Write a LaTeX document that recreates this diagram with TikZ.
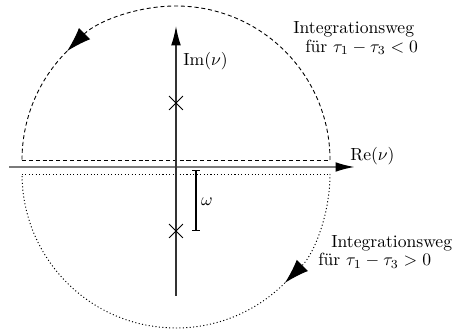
\documentclass[tikz,border=0pt]{standalone}
\usepackage{tikz}
\usetikzlibrary{arrows.meta,shapes.misc}
\definecolor{axisgray}{HTML}{7A7A7A}
\definecolor{axisdark}{HTML}{333333}

\begin{document}
\begin{tikzpicture}[
  imaxis/.style={line width=0.8pt, axisdark, -{Latex[length=11pt,width=5.5pt,black]}},
  reaxis/.style={line width=1.1pt, axisgray, -{Latex[length=11pt,width=5.5pt,black]}},
  wegup/.style={line width=0.5pt, dash pattern=on 2.3pt off 1.6pt},
  wegdown/.style={line width=0.55pt, dash pattern=on 0.6pt off 1.35pt},
  wegtip/.style={-{Latex[length=14pt,width=9pt]}},
  pole/.style={draw, cross out, minimum size=0.26cm, inner sep=0pt, line width=0.5pt},
  lbl/.style={inner sep=0pt},
]
\useasboundingbox (-3.52,-3.24) rectangle (5.56,3.34);

% ---------- integration paths ----------
% upper half, tau1 - tau3 < 0
\begin{scope}[shift={(0,0.14)}]
  \draw[wegup] (-3.08,0) -- (3.08,0);
  \draw[wegup, wegtip] (3.08,0) arc (0:135:3.08);
  \draw[wegup] (135:3.08) arc (135:180:3.08);
\end{scope}
% lower half, tau1 - tau3 > 0
\begin{scope}[shift={(0,-0.14)}]
  \draw[wegdown] (-3.08,0) -- (3.08,0);
  \draw[wegdown, wegtip] (3.08,0) arc (0:-45:3.08);
  \draw[wegdown] (-45:3.08) arc (-45:-180:3.08);
\end{scope}

% ---------- axes ----------
\coordinate (re0) at (-3.33,0);
\coordinate (re1) at (3.58,0);
\coordinate (im0) at (0,-2.58);
\coordinate (im1) at (0,2.82);
\draw[reaxis] (re0) -- (re1);
\draw[imaxis] (im0) -- (im1);
\node[lbl, anchor=west] (re) at (3.48,0.22) {$\mathrm{Re}(\nu)$};
\node[lbl, anchor=west] (im) at (0.14,2.12) {$\mathrm{Im}(\nu)$};

% ---------- poles ----------
\node[pole] (p1) at (0,1.28) {};
\node[pole] (p2) at (0,-1.28) {};

% ---------- distance omega ----------
\coordinate (w0) at (0.4,-0.06);
\draw[line width=0.7pt, {Bar[width=4.5pt]}-{Bar[width=4.5pt]}] (w0) -- (w0 |- p2);
\node[lbl] (om) at (0.62,-0.7) {$\omega$};

% ---------- labels ----------
\node[lbl, anchor=north west, align=left] (tup) at (2.34,2.91)
  {Integrationsweg\\[-1.5pt]\hspace*{6.8pt}für $\tau_1-\tau_3<0$};
\node[lbl, anchor=north west, align=left] (tdown) at (2.84,-1.36)
  {\hspace*{7.4pt}Integrationsweg\\[-1.5pt]für $\tau_1-\tau_3>0$};

\end{tikzpicture}
\end{document}
